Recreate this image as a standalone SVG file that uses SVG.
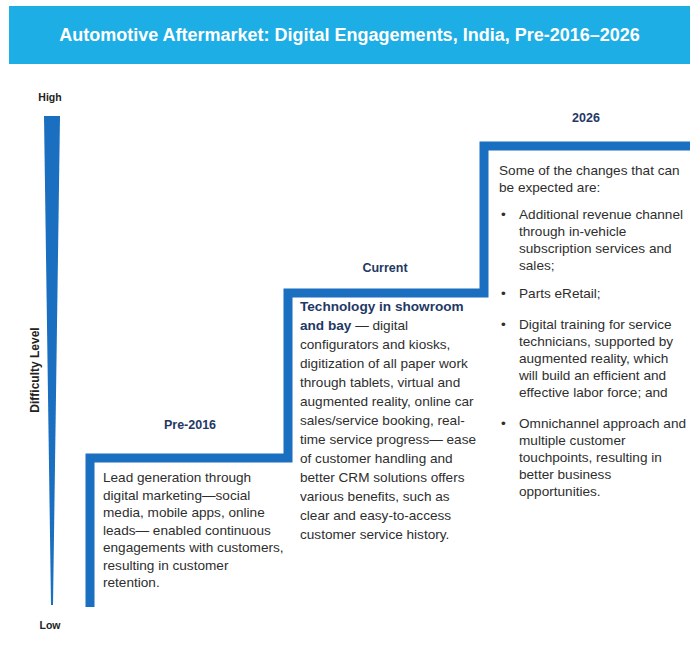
<svg xmlns="http://www.w3.org/2000/svg" width="699" height="648" viewBox="0 0 699 648">
<style>
.t{font-family:"Liberation Sans",Arial,sans-serif;font-size:13.6px;fill:#2e2e2e}
.lbl{font-family:"Liberation Sans",Arial,sans-serif;font-size:12.5px;font-weight:bold;fill:#1f3864;text-anchor:middle}
.ax{font-family:"Liberation Sans",Arial,sans-serif;font-size:10.5px;font-weight:bold;fill:#222;text-anchor:middle}
.stair{fill:none;stroke:#1a6fc0;stroke-width:9;stroke-linejoin:miter}
</style>
<rect width="699" height="648" fill="#ffffff"/>
<g id="title">
<rect x="9" y="6" width="681" height="58" fill="#1eaee6"/>
<text x="349.5" y="41" text-anchor="middle" style="font-family:'Liberation Sans',Arial,sans-serif;font-size:18px;font-weight:bold;fill:#ffffff">Automotive Aftermarket: Digital Engagements, India, Pre-2016–2026</text>
</g>
<g id="axis">
<text class="ax" x="50" y="101">High</text>
<polygon points="44,116 60,116 53,605 51,605" fill="#1a6fc0"/>
<text class="ax" transform="translate(39,370) rotate(-90)" style="font-size:12px">Difficulty Level</text>
<text class="ax" x="50" y="629">Low</text>
</g>
<g id="connectors">
<path class="stair" d="M90,607 V458 H288 V293 H484 V146 H690"/>
</g>
<g id="pre2016">
<text class="lbl" x="190" y="429">Pre-2016</text>
<text class="t" x="103" y="482">Lead generation through</text>
<text class="t" x="103" y="499.5">digital marketing—social</text>
<text class="t" x="103" y="517">media, mobile apps, online</text>
<text class="t" x="103" y="534.5">leads— enabled continuous</text>
<text class="t" x="103" y="552">engagements with customers,</text>
<text class="t" x="103" y="569.5">resulting in customer</text>
<text class="t" x="103" y="587">retention.</text>
</g>
<g id="current">
<text class="lbl" x="385" y="272">Current</text>
<text class="t" x="300" y="311" style="font-weight:bold;fill:#1f3864">Technology in showroom</text>
<text class="t" x="300" y="330"><tspan style="font-weight:bold;fill:#1f3864">and bay</tspan> — digital</text>
<text class="t" x="300" y="349">configurators and kiosks,</text>
<text class="t" x="300" y="368">digitization of all paper work</text>
<text class="t" x="300" y="387">through tablets, virtual and</text>
<text class="t" x="300" y="406">augmented reality, online car</text>
<text class="t" x="300" y="425">sales/service booking, real-</text>
<text class="t" x="300" y="444">time service progress— ease</text>
<text class="t" x="300" y="463">of customer handling and</text>
<text class="t" x="300" y="482">better CRM solutions offers</text>
<text class="t" x="300" y="501">various benefits, such as</text>
<text class="t" x="300" y="520">clear and easy-to-access</text>
<text class="t" x="300" y="539">customer service history.</text>
</g>
<g id="y2026">
<text class="lbl" x="586" y="122">2026</text>
<text class="t" x="499" y="175">Some of the changes that can</text>
<text class="t" x="499" y="192">be expected are:</text>
<text class="t" x="501" y="219">•</text>
<text class="t" x="519" y="219">Additional revenue channel</text>
<text class="t" x="519" y="236">through in-vehicle</text>
<text class="t" x="519" y="253">subscription services and</text>
<text class="t" x="519" y="270">sales;</text>
<text class="t" x="501" y="298">•</text>
<text class="t" x="519" y="298">Parts eRetail;</text>
<text class="t" x="501" y="329">•</text>
<text class="t" x="519" y="329">Digital training for service</text>
<text class="t" x="519" y="346">technicians, supported by</text>
<text class="t" x="519" y="363">augmented reality, which</text>
<text class="t" x="519" y="380">will build an efficient and</text>
<text class="t" x="519" y="397">effective labor force; and</text>
<text class="t" x="501" y="428">•</text>
<text class="t" x="519" y="428">Omnichannel approach and</text>
<text class="t" x="519" y="445">multiple customer</text>
<text class="t" x="519" y="462">touchpoints, resulting in</text>
<text class="t" x="519" y="479">better business</text>
<text class="t" x="519" y="496">opportunities.</text>
</g>
</svg>
